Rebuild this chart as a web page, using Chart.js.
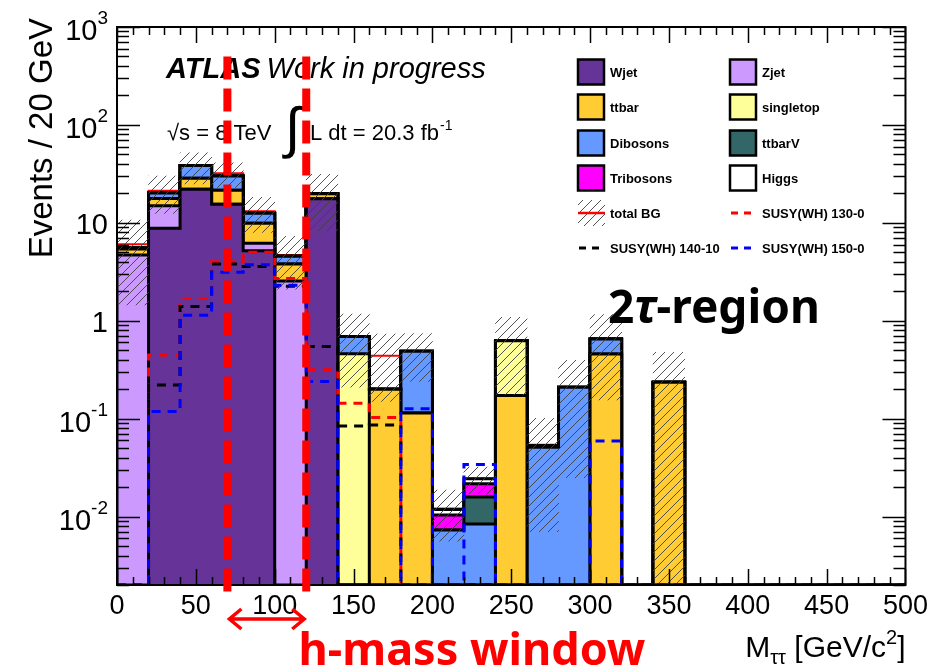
<!DOCTYPE html>
<html>
<head>
<meta charset="utf-8">
<script src="https://cdn.jsdelivr.net/npm/chart.js@4.4.1/dist/chart.umd.min.js"></script>
<style>
  html, body { margin: 0; padding: 0; background: #fff; }
  #wrap { width: 933px; height: 671px; position: relative; }
</style>
</head>
<body>
<div id="wrap"><canvas id="c" width="933" height="671"></canvas></div>
<script>
// 20 GeV bins of M_tautau, lower edges
const binLow = [0, 20, 40, 60, 80, 100, 120, 140, 160, 180, 200, 220, 240, 260, 280, 300, 320, 340, 360, 380, 400, 420, 440, 460, 480];
const X_MAX = 500;

// Background components (events / 20 GeV)
const wjet      = [0, 8.8, 22, 15.5, 5.2, 0, 17.6, 0, 0, 0, 0, 0, 0, 0, 0, 0, 0, 0, 0, 0, 0, 0, 0, 0, 0];
const zjet      = [4.7, 6.1, 0, 0, 1.0, 2.55, 0, 0, 0, 0, 0, 0, 0, 0, 0, 0, 0, 0, 0, 0, 0, 0, 0, 0, 0];
const ttbar     = [0.7, 2.8, 6.5, 6.0, 3.7, 1.25, 2.2, 0, 0.2, 0.114, 0, 0, 0.172, 0, 0, 0.457, 0, 0.235, 0, 0, 0, 0, 0, 0, 0];
const singletop = [0, 0, 0, 0, 0, 0, 0, 0.46, 0, 0, 0, 0, 0.453, 0, 0, 0, 0, 0, 0, 0, 0, 0, 0, 0, 0];
const dibosons  = [0.2, 2.5, 10, 8.5, 2.6, 0.75, 0, 0.23, 0, 0.373, 0.0073, 0.0084, 0, 0.051, 0.209, 0.193, 0, 0, 0, 0, 0, 0, 0, 0, 0];
const ttbarV    = [0, 0, 0, 0, 0, 0, 0, 0, 0, 0, 0, 0.0074, 0, 0, 0, 0, 0, 0, 0, 0, 0, 0, 0, 0, 0];
const tribosons = [0, 0, 0, 0, 0, 0, 0, 0, 0, 0, 0.0031, 0.0058, 0, 0.002, 0, 0, 0, 0, 0, 0, 0, 0, 0, 0, 0];
const higgs     = [0, 0, 0, 0, 0, 0, 0, 0, 0, 0, 0.0014, 0.0027, 0, 0, 0, 0, 0, 0, 0, 0, 0, 0, 0, 0, 0];

// Total background and its uncertainty
const totalBG   = [6.05, 21.3, 38.5, 32.0, 13.1, 4.7, 19.8, 0.69, 0.44, 0.49, 0.0121, 0.0245, 0.63, 0.054, 0.21, 0.655, 0, 0.236, 0, 0, 0, 0, 0, 0, 0];
const bgErr     = [4.6, 8.8, 13.5, 9.0, 5.1, 2.6, 11.5, 0.48, 0.29, 0.25, 0.0065, 0.0075, 0.455, 0.047, 0.185, 0.5, 0, 0.24, 0, 0, 0, 0, 0, 0, 0];

// Signal points
const susy130_0  = [0, 0.447, 1.69, 4.0, 5.0, 2.7, 0.316, 0.144, 0.103, 0, 0, 0, 0, 0, 0, 0, 0, 0, 0, 0, 0, 0, 0, 0, 0];
const susy140_10 = [0, 0.221, 1.40, 3.79, 3.57, 2.25, 0.547, 0.084, 0.086, 0, 0, 0, 0, 0, 0, 0, 0, 0, 0, 0, 0, 0, 0, 0, 0];
const susy150_0  = [0, 0.118, 1.14, 3.12, 3.72, 2.3, 0.239, 0, 0, 0.126, 0, 0.034, 0, 0, 0, 0.059, 0, 0, 0, 0, 0, 0, 0, 0, 0];

// Axis ranges and tick labels
const Y_MIN = 0.002, Y_MAX = 1000;
const yTickValues = [0.01, 0.1, 1, 10, 100, 1000];
const yTickBases  = ['10', '10', '1', '10', '10', '10'];
const yTickExps   = ['-2', '-1', '', '', '2', '3'];

// Higgs mass window
const hWindow = [70, 120];

const stack = [
  { label: 'Wjet',      values: wjet,      color: '#663399' },
  { label: 'Zjet',      values: zjet,      color: '#cc99ff' },
  { label: 'ttbar',     values: ttbar,     color: '#ffcc33' },
  { label: 'singletop', values: singletop, color: '#ffff99' },
  { label: 'Dibosons',  values: dibosons,  color: '#6699ff' },
  { label: 'ttbarV',    values: ttbarV,    color: '#336666' },
  { label: 'Tribosons', values: tribosons, color: '#ff00ff' },
  { label: 'Higgs',     values: higgs,     color: '#ffffff' }
];

const signals = [
  { label: 'SUSY(WH) 130-0',  values: susy130_0,  color: '#ff0000', order: 0.3 },
  { label: 'SUSY(WH) 140-10', values: susy140_10, color: '#000000', order: 0.2 },
  { label: 'SUSY(WH) 150-0',  values: susy150_0,  color: '#0000ff', order: 0.1 }
];

// histogram outline as step points (closed down to the axis floor at both ends)
function stepSeries(vals) {
  const pts = [{ x: binLow[0], y: Y_MIN }];
  vals.forEach((v, i) => pts.push({ x: binLow[i], y: Math.max(v, Y_MIN) }));
  pts.push({ x: X_MAX, y: Math.max(vals[vals.length - 1], Y_MIN) });
  pts.push({ x: X_MAX, y: Y_MIN });
  return pts;
}

function makeHatch() {
  const s = 9;
  const c = document.createElement('canvas');
  c.width = s; c.height = s;
  const g = c.getContext('2d');
  g.strokeStyle = '#404040';
  g.lineWidth = 0.9;
  g.beginPath();
  g.moveTo(0, s); g.lineTo(s, 0);
  g.moveTo(-1, 1); g.lineTo(1, -1);
  g.moveTo(s - 1, s + 1); g.lineTo(s + 1, s - 1);
  g.stroke();
  return g.createPattern(c, 'repeat');
}
const hatch = makeHatch();

// cumulative sums for the stack
let running = binLow.map(() => 0);
const cumulative = stack.map(s => {
  running = running.map((r, i) => r + s.values[i]);
  return running.slice();
});

const datasets = [];

signals.forEach(s => datasets.push({
  type: 'line', label: s.label, data: stepSeries(s.values), stepped: true,
  borderColor: s.color, borderWidth: 3, borderDash: [9, 7], fill: false,
  pointRadius: 0, order: s.order
}));

// uncertainty band on the total background
const bandData = [];
totalBG.forEach((t, i) => {
  if (t > 0) bandData.push({ x: binLow[i] + 10, y: [Math.max(t - bgErr[i], Y_MIN), t + bgErr[i]] });
});
datasets.push({
  type: 'bar', label: 'total BG', data: bandData, backgroundColor: hatch,
  borderWidth: 0, barPercentage: 1, categoryPercentage: 1, grouped: false, order: 1
});

stack.forEach((s, k) => datasets.push({
  type: 'line', label: s.label, data: stepSeries(cumulative[k]), stepped: true,
  fill: 'start', backgroundColor: s.color, borderColor: '#000', borderWidth: 3,
  pointRadius: 0, order: 2 + k
}));

datasets.push({
  type: 'line', label: 'total BG line', data: stepSeries(totalBG), stepped: true,
  borderColor: '#ff0000', borderWidth: 2, fill: false, pointRadius: 0, order: 20
});

const FONT = '"Liberation Sans", Arial, sans-serif';

const decorations = {
  id: 'decorations',
  afterDatasetsDraw(chart) {
    const ctx = chart.ctx;
    const a = chart.chartArea;
    const xs = chart.scales.x, ys = chart.scales.y;
    ctx.save();

    // frame
    ctx.strokeStyle = '#000';
    ctx.lineWidth = 2;
    ctx.strokeRect(a.left, a.top, a.right - a.left, a.bottom - a.top);

    // x ticks (inward, bottom and top)
    ctx.lineWidth = 1.5;
    ctx.beginPath();
    for (let v = 0; v <= X_MAX; v += 10) {
      const px = Math.round(xs.getPixelForValue(v)) + 0.5;
      const len = v % 50 === 0 ? 16 : 8;
      ctx.moveTo(px, a.bottom); ctx.lineTo(px, a.bottom - len);
      ctx.moveTo(px, a.top); ctx.lineTo(px, a.top + len);
    }
    // y ticks (log, inward, left and right)
    for (let e = -3; e <= 3; e++) {
      for (let m = 1; m <= 9; m++) {
        const v = m * Math.pow(10, e);
        if (v < Y_MIN || v > Y_MAX) continue;
        const py = Math.round(ys.getPixelForValue(v)) + 0.5;
        const len = m === 1 ? 23 : 12;
        ctx.moveTo(a.left, py); ctx.lineTo(a.left + len, py);
        ctx.moveTo(a.right, py); ctx.lineTo(a.right - len, py);
      }
    }
    ctx.stroke();

    // y tick labels with exponents
    ctx.fillStyle = '#000';
    ctx.textBaseline = 'middle';
    ctx.textAlign = 'right';
    yTickValues.forEach((v, i) => {
      const py = ys.getPixelForValue(v);
      const right = a.left - 9;
      if (yTickExps[i]) {
        ctx.font = '19px ' + FONT;
        const we = ctx.measureText(yTickExps[i]).width;
        ctx.fillText(yTickExps[i], right, py - 8);
        ctx.font = '29px ' + FONT;
        ctx.fillText(yTickBases[i], right - we, py + 5);
      } else {
        ctx.font = '29px ' + FONT;
        ctx.fillText(yTickBases[i], right, py + 3);
      }
    });

    // y axis title
    ctx.save();
    ctx.translate(52, 18);
    ctx.rotate(-Math.PI / 2);
    ctx.textAlign = 'right';
    ctx.textBaseline = 'alphabetic';
    ctx.font = '33px ' + FONT;
    ctx.fillText('Events / 20 GeV', 0, 0);
    ctx.restore();

    // x axis title: M_tautau [GeV/c^2]
    ctx.textAlign = 'left';
    ctx.textBaseline = 'alphabetic';
    const parts = [
      { t: 'M', f: '30px ', dy: 0 },
      { t: '\u03c4\u03c4', f: '20px ', dy: 7 },
      { t: ' [GeV/c', f: '30px ', dy: 0 },
      { t: '2', f: '20px ', dy: -13 },
      { t: ']', f: '30px ', dy: 0 }
    ];
    let total = 0;
    parts.forEach(p => { ctx.font = p.f + FONT; p.w = ctx.measureText(p.t).width; total += p.w; });
    let px = a.right - total;
    parts.forEach(p => { ctx.font = p.f + FONT; ctx.fillText(p.t, px, 657 + p.dy); px += p.w; });

    // ATLAS label
    ctx.font = 'italic bold 29px ' + FONT;
    ctx.fillText('ATLAS', 166, 78);
    const wA = ctx.measureText('ATLAS').width;
    ctx.font = 'italic 29px ' + FONT;
    ctx.fillText('Work in progress', 166 + wA + 6, 78);

    ctx.font = '22px ' + FONT;
    ctx.fillText('\u221as = 8 TeV', 167, 140);
    ctx.font = '56px ' + FONT;
    ctx.fillText('\u222b', 285, 147);
    ctx.font = '22px ' + FONT;
    ctx.fillText('L dt = 20.3 fb', 310, 140);
    const wL = ctx.measureText('L dt = 20.3 fb').width;
    ctx.font = '14px ' + FONT;
    ctx.fillText('-1', 310 + wL + 1, 130);

    // region label
    ctx.fillStyle = '#000';
    ctx.font = 'bold 46px "Noto Sans", sans-serif';
    let rx = 608;
    ctx.fillText('2', rx, 323); rx += ctx.measureText('2').width;
    ctx.font = 'italic bold 46px "Noto Sans", sans-serif';
    ctx.fillText('\u03c4', rx, 323); rx += ctx.measureText('\u03c4').width;
    ctx.font = 'bold 46px "Noto Sans", sans-serif';
    ctx.fillText('-region', rx, 323);

    // Higgs mass window: dashed verticals, arrow and caption
    const x1 = xs.getPixelForValue(hWindow[0]);
    const x2 = xs.getPixelForValue(hWindow[1]);
    const yTop = ys.getPixelForValue(500);
    ctx.strokeStyle = '#ff0000';
    ctx.lineWidth = 8;
    ctx.setLineDash([23, 9]);
    ctx.beginPath();
    [x1, x2].forEach(x => { ctx.moveTo(x, yTop); ctx.lineTo(x, a.bottom + 12); });
    ctx.stroke();
    ctx.setLineDash([]);

    const ay = a.bottom + 34;
    ctx.lineWidth = 3.5;
    ctx.beginPath();
    ctx.moveTo(x1 + 2, ay); ctx.lineTo(x2 - 2, ay);
    ctx.moveTo(x1 + 14, ay - 10); ctx.lineTo(x1 + 2, ay); ctx.lineTo(x1 + 14, ay + 10);
    ctx.moveTo(x2 - 14, ay - 10); ctx.lineTo(x2 - 2, ay); ctx.lineTo(x2 - 14, ay + 10);
    ctx.stroke();

    ctx.fillStyle = '#ff0000';
    ctx.textAlign = 'center';
    ctx.font = 'bold 45px "Noto Sans", sans-serif';
    ctx.fillText('h-mass window', 472, 665);

    // legend
    drawLegend(ctx);
    ctx.restore();
  }
};

function drawLegend(ctx) {
  const colX = [578, 730];
  const rowY = [72, 107, 143, 178, 213, 248];
  const entries = [];
  const boxes = stack.map(s => ({ kind: 'box', label: s.label, color: s.color }));
  boxes.forEach((b, i) => entries.push({ ...b, col: i % 2, row: Math.floor(i / 2) }));
  entries.push({ kind: 'band', label: 'total BG', col: 0, row: 4 });
  entries.push({ kind: 'dash', label: signals[0].label, color: signals[0].color, col: 1, row: 4 });
  entries.push({ kind: 'dash', label: signals[1].label, color: signals[1].color, col: 0, row: 5 });
  entries.push({ kind: 'dash', label: signals[2].label, color: signals[2].color, col: 1, row: 5 });

  ctx.textAlign = 'left';
  ctx.textBaseline = 'middle';
  entries.forEach(e => {
    const x = colX[e.col], y = rowY[e.row];
    if (e.kind === 'box') {
      ctx.fillStyle = e.color;
      ctx.fillRect(x, y - 12.5, 26, 25);
      ctx.strokeStyle = '#000';
      ctx.lineWidth = 2.5;
      ctx.strokeRect(x, y - 12.5, 26, 25);
    } else if (e.kind === 'band') {
      ctx.fillStyle = hatch;
      ctx.fillRect(x, y - 13, 27, 26);
      ctx.strokeStyle = '#ff0000';
      ctx.lineWidth = 2.5;
      ctx.beginPath(); ctx.moveTo(x, y); ctx.lineTo(x + 27, y); ctx.stroke();
    } else {
      ctx.strokeStyle = e.color;
      ctx.lineWidth = 3;
      ctx.setLineDash([7, 6]);
      ctx.beginPath(); ctx.moveTo(x + 1, y); ctx.lineTo(x + 27, y); ctx.stroke();
      ctx.setLineDash([]);
    }
    ctx.fillStyle = '#000';
    ctx.font = 'bold 13px ' + FONT;
    ctx.fillText(e.label, x + 32, y + 1);
  });
}

new Chart(document.getElementById('c'), {
  type: 'line',
  data: { datasets },
  options: {
    responsive: false,
    animation: false,
    events: [],
    layout: { padding: { top: 27, right: 27, left: 0, bottom: 0 } },
    plugins: { legend: { display: false }, tooltip: { enabled: false } },
    scales: {
      x: {
        type: 'linear', min: 0, max: X_MAX, offset: false,
        grid: { display: false, drawTicks: false },
        border: { display: false },
        ticks: {
          stepSize: 50, autoSkip: false, maxRotation: 0, padding: 5,
          color: '#000', font: { family: FONT, size: 27 }
        },
        afterFit(scale) { scale.height = 86; }
      },
      y: {
        type: 'logarithmic', min: Y_MIN, max: Y_MAX,
        grid: { display: false, drawTicks: false },
        border: { display: false },
        ticks: { display: false },
        afterFit(scale) { scale.width = 117; }
      }
    }
  },
  plugins: [decorations]
});
</script>
</body>
</html>
